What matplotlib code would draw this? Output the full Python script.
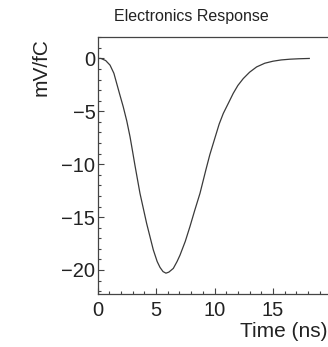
import matplotlib
matplotlib.use("Agg")
import matplotlib.pyplot as plt
from matplotlib.ticker import MultipleLocator

# Data
time_ns = [0.0, 0.3, 0.7, 1.07, 1.4, 1.64, 1.9, 2.2, 2.5, 2.78, 3.0, 3.2, 3.63, 4.2,
           4.77, 5.1, 5.34, 5.6, 5.85, 6.1, 6.48, 6.8, 7.05, 7.5, 7.9, 8.3, 8.76, 9.27, 9.6,
           10.04, 10.4, 10.75, 11.2, 11.6, 12.0, 12.46, 13.0, 13.6, 14.3, 15.0,
           15.7, 16.45, 17.2, 18.1]
response = [0.0, 0.0, -0.2, -0.63, -1.4, -2.36, -3.4, -4.57, -5.9, -7.4, -8.8, -10.1,
            -12.75, -15.6, -18.1, -19.2, -19.75, -20.15, -20.3, -20.2, -19.85, -19.2, -18.6, -17.3,
            -15.9, -14.4, -12.75, -10.5, -9.1, -7.5, -6.2, -5.2, -4.2, -3.3, -2.55,
            -1.9, -1.3, -0.8, -0.45, -0.26, -0.14, -0.07, -0.03, 0.0]

title = "Electronics Response"
xlabel = "Time (ns)"
ylabel = "mV/fC"
xticks = [0, 5, 10, 15]
yticks = [0, -5, -10, -15, -20]

plt.rcParams['font.family'] = ['Liberation Sans', 'DejaVu Sans']

W, H = 328, 347
fig = plt.figure(figsize=(W / 100, H / 100), dpi=100)
ax = fig.add_axes([97.5 / W, 1 - 294 / H, 234 / W, (294 - 37.3) / H])

ink = "#222222"
ax.plot(time_ns, response, color="#3a3a3a", lw=0.9)
ax.set_xlim(0, 20)
ax.set_ylim(-22.27, 2.0)
ax.set_xticks(xticks)
ax.set_yticks(yticks)
ax.xaxis.set_minor_locator(MultipleLocator(1))
ax.yaxis.set_minor_locator(MultipleLocator(1))
ax.tick_params(which="both", direction="in", color="#444444", width=0.8,
               labelsize=14.5, labelcolor=ink)
ax.tick_params(which="major", length=4.2)
ax.tick_params(which="minor", length=2.4)
ax.tick_params(axis="x", pad=5.0)
ax.tick_params(axis="y", pad=1.5)
ax.spines["right"].set_visible(False)
for s in ("left", "bottom", "top"):
    ax.spines[s].set_color("#444444")
    ax.spines[s].set_linewidth(0.9)

fig.text(191 / W, 1 - 16 / H, title, ha="center", va="center", fontsize=11.5, color=ink)
fig.text(327 / W, 1 - 337 / H, xlabel, ha="right", va="baseline", fontsize=15, color=ink)
fig.text(41 / W, 1 - 38 / H, ylabel, ha="center", va="top", rotation=90, fontsize=15, color=ink)

fig.savefig("out.png", dpi=100)
